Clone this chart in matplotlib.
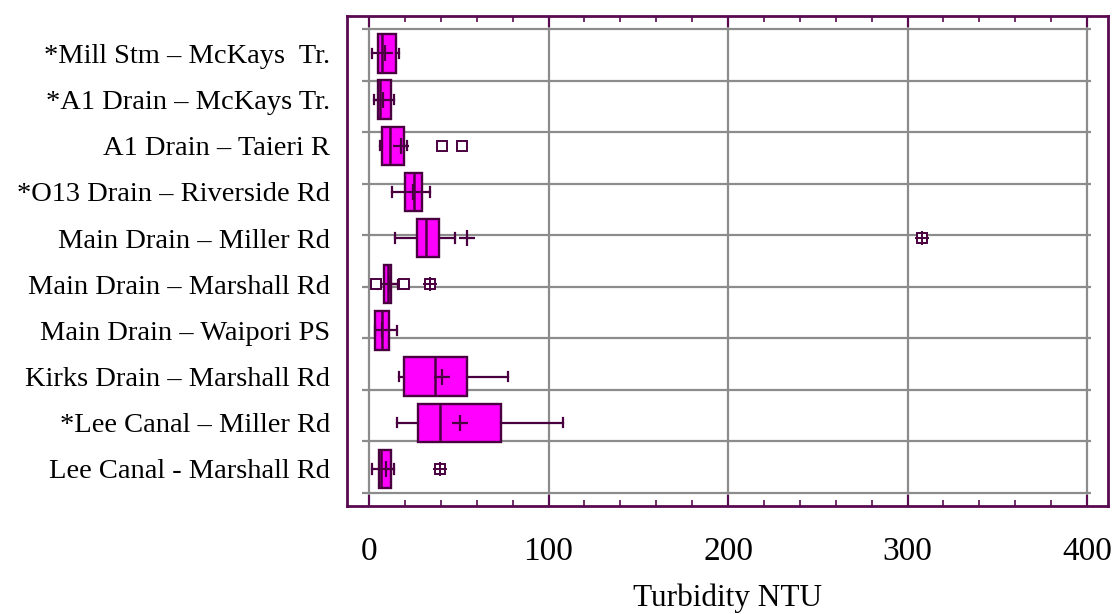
import numpy as np
import matplotlib
matplotlib.use('Agg')
import matplotlib.pyplot as plt

# 各采样点浊度箱线图 (从上到下)
sites = ['*Mill Stm – McKays  Tr.', '*A1 Drain – McKays Tr.', 'A1 Drain – Taieri R',
         '*O13 Drain – Riverside Rd', 'Main Drain – Miller Rd', 'Main Drain – Marshall Rd',
         'Main Drain – Waipori PS', 'Kirks Drain – Marshall Rd', '*Lee Canal – Miller Rd',
         'Lee Canal - Marshall Rd']
whislo = [1.5, 2.5, 6.1, 12.8, 14.6, 5.2, 3.3, 16.7, 15.6, 1.9]
q1 = [5.2, 5.2, 7.0, 20.0, 26.5, 8.5, 3.3, 19.3, 27.4, 5.6]
med = [7.0, 6.3, 11.9, 24.8, 31.7, 10.6, 7.2, 36.7, 39.6, 6.5]
q3 = [14.8, 12.2, 19.6, 29.6, 38.7, 12.2, 11.1, 54.3, 73.5, 12.0]
whishi = [16.7, 14.0, 21.1, 34.1, 47.8, 16.0, 15.6, 77.2, 108.3, 13.9]
means = [8.9, 8.0, 17.6, 24.5, 54.4, 11.0, 7.0, 40.6, 50.9, 9.6]
# 异常点 (outside) 和极端异常点 (far outside)
outside = [[], [], [40.4, 51.5], [], [], [4.1, 19.3], [], [], [], []]
far_outside = [[], [], [], [], [308.0], [33.9], [], [], [], [39.6]]

purple = '#5a0a50'
edge = '#4a0040'
grid_c = '#8c8c8c'

plt.rcParams['font.family'] = ['Liberation Serif', 'DejaVu Serif']

fig = plt.figure(figsize=(11.14, 6.14), dpi=100)
ax = fig.add_axes([0.3115, 0.176, 0.6831, 0.798])

n = len(sites)
pos = np.arange(n)[::-1]  # 第一个在最上面

stats = []
for i in range(n):
    stats.append(dict(med=med[i], q1=q1[i], q3=q3[i], whislo=whislo[i], whishi=whishi[i],
                      mean=means[i], fliers=[]))

ax.bxp(stats, positions=pos, vert=False, widths=0.83, capwidths=0.2, patch_artist=True,
       showmeans=True, showfliers=False,
       boxprops=dict(facecolor='#ff00ff', edgecolor=edge, linewidth=1.7),
       medianprops=dict(color=edge, linewidth=1.8),
       whiskerprops=dict(color=edge, linewidth=1.6),
       capprops=dict(color=edge, linewidth=1.6),
       meanprops=dict(marker='+', markeredgecolor=edge, markersize=12, markeredgewidth=1.6),
       zorder=3)

for i in range(n):
    if outside[i]:
        ax.plot(outside[i], [pos[i]] * len(outside[i]), 's', ms=7.5, mfc='white',
                mec=edge, mew=1.4, zorder=4)
    if far_outside[i]:
        ax.plot(far_outside[i], [pos[i]] * len(far_outside[i]), 's', ms=7.5, mfc='white',
                mec=edge, mew=1.4, zorder=4)
        ax.plot(far_outside[i], [pos[i]] * len(far_outside[i]), '+', ms=10,
                mec=edge, mew=1.4, zorder=5)

# 网格线
for gx in [0, 100, 200, 300, 400]:
    ax.axvline(gx, color=grid_c, lw=1.6, zorder=1)
ax.hlines(np.linspace(-0.52, 9.52, 10), -4, 402.5, color=grid_c, lw=1.6, zorder=1)

ax.set_xlim(-12.3, 411.7)
ax.set_ylim(-0.80, 9.81)

ax.set_xticks([0, 100, 200, 300, 400])
ax.set_xticks(np.arange(0, 401, 20), minor=True)
ax.set_yticks(pos)
ax.set_yticklabels(sites, fontsize=20.5)
ax.tick_params(axis='y', length=0, pad=12)
ax.tick_params(axis='x', which='major', direction='in', length=8, width=1.5, color=purple,
               top=True, labelsize=24, pad=22)
ax.tick_params(axis='x', which='minor', direction='in', length=4, width=1.2, color=purple,
               top=True)
ax.set_xlabel('Turbidity NTU', fontsize=22.5, labelpad=12)

for s in ax.spines.values():
    s.set_color(purple)
    s.set_linewidth(2)

plt.savefig('out.png', dpi=100)
